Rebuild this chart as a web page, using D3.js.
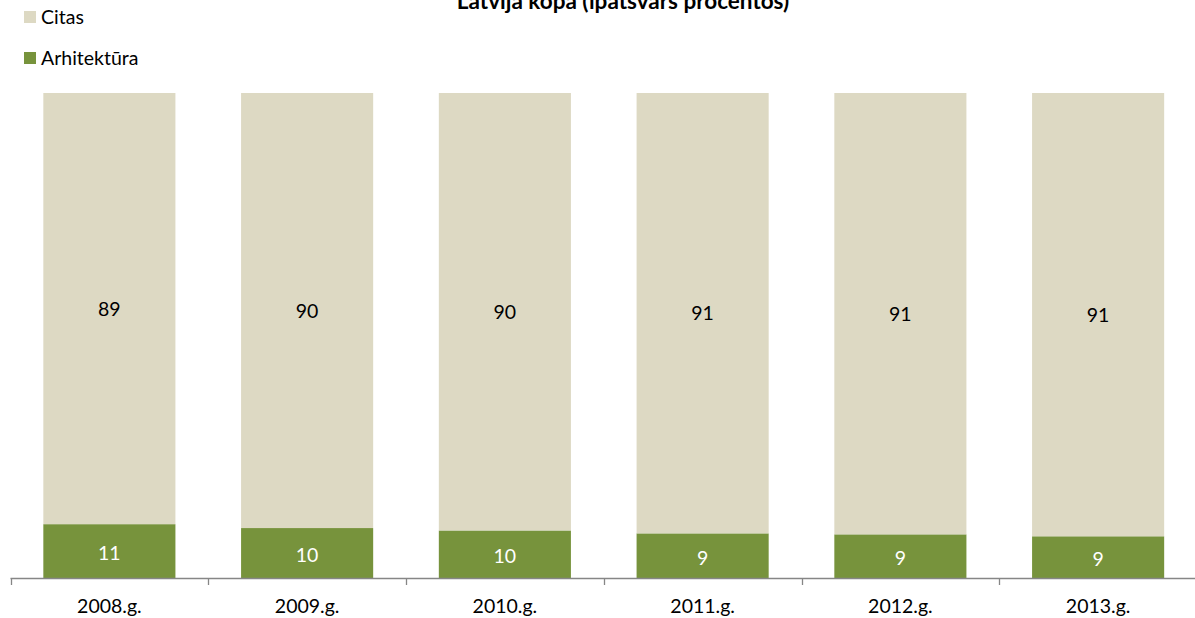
<!DOCTYPE html>
<html>
<head>
<meta charset="utf-8">
<script src="https://cdn.jsdelivr.net/npm/d3@7"></script>
<style>
  html, body { margin: 0; padding: 0; background: #fff; }
  svg { display: block; font-family: Lato, "Open Sans", sans-serif; }
</style>
</head>
<body>
<div id="chart"></div>
<script>
const WIDTH = 1195;
const HEIGHT = 618;

// --------------- Data ---------------
const years = ["2008.g.", "2009.g.", "2010.g.", "2011.g.", "2012.g.", "2013.g."];
const arhitektura = [11.1, 10.3, 9.8, 9.2, 9.0, 8.6];
const citas = [88.9, 89.7, 90.2, 90.8, 91.0, 91.4];
const seriesNames = ["Arhitektūra", "Citas"];
const seriesColors = ["#77933C", "#DDD9C3"];
const labelColors = ["#FFFFFF", "#000000"];
const title = "Latvija kopā (īpatsvars procentos)";

const rows = years.map((y, i) => ({ year: y, "Arhitektūra": arhitektura[i], "Citas": citas[i] }));
const stack = d3.stack().keys(seriesNames)(rows);

// --------------- Scales ---------------
const x = d3.scaleBand()
  .domain(years)
  .range([10.5, 1197])
  .paddingInner(0.332)
  .paddingOuter(0.166);

const y = d3.scaleLinear()
  .domain([0, 100])
  .range([578, 93]);

const svg = d3.select("#chart")
  .append("svg")
  .attr("width", WIDTH)
  .attr("height", HEIGHT);

// title (top is clipped in the original too)
svg.append("text")
  .attr("x", 623)
  .attr("y", 9)
  .attr("text-anchor", "middle")
  .style("font-weight", "bold")
  .style("font-size", "22.5px")
  .text(title);

// bars
const layers = svg.append("g")
  .selectAll("g")
  .data(stack)
  .enter()
  .append("g")
  .attr("fill", (d, i) => seriesColors[i]);

layers.selectAll("rect")
  .data(d => d)
  .enter()
  .append("rect")
  .attr("x", d => x(d.data.year))
  .attr("width", x.bandwidth())
  .attr("y", d => y(d[1]))
  .attr("height", d => y(d[0]) - y(d[1]));

// value labels
layers.each(function(layer, li) {
  d3.select(this).selectAll("text")
    .data(layer)
    .enter()
    .append("text")
    .attr("x", d => x(d.data.year) + x.bandwidth() / 2)
    .attr("y", d => (y(d[0]) + y(d[1])) / 2 + 7 + (li === 0 ? 2 : 0))
    .attr("text-anchor", "middle")
    .attr("fill", labelColors[li])
    .style("font-size", "19.5px")
    .text(d => d3.format(".0f")(d[1] - d[0]));
});

// x axis
const axis = svg.append("g")
  .attr("transform", "translate(0,578)")
  .call(d3.axisBottom(x).tickSize(0).tickPadding(0));

axis.select(".domain")
  .attr("stroke", "#868686")
  .attr("stroke-width", 1.3)
  .attr("d", "M10.5,0.5H1197");

axis.selectAll(".tick text")
  .attr("y", 35)
  .attr("dy", 0)
  .attr("fill", "#000")
  .style("font-size", "19.5px")
  .style("font-family", "Lato, sans-serif");

// boundary ticks between categories
const bounds = years.map(d => x(d) - x.step() * x.paddingInner() / 2).concat([x.range()[1]]);
axis.append("g")
  .selectAll("line")
  .data(bounds)
  .enter()
  .append("line")
  .attr("x1", d => Math.round(d) + 0.5)
  .attr("x2", d => Math.round(d) + 0.5)
  .attr("y1", 0)
  .attr("y2", 7)
  .attr("stroke", "#868686")
  .attr("stroke-width", 1.3);

// legend (Citas on top)
const legendItems = [
  { name: seriesNames[1], color: seriesColors[1], y: 11 },
  { name: seriesNames[0], color: seriesColors[0], y: 52 }
];
const legend = svg.append("g")
  .selectAll("g")
  .data(legendItems)
  .enter()
  .append("g");

legend.append("rect")
  .attr("x", 24)
  .attr("y", d => d.y)
  .attr("width", 12)
  .attr("height", 12)
  .attr("fill", d => d.color);

legend.append("text")
  .attr("x", 41)
  .attr("y", d => d.y + 13)
  .style("font-size", "19.5px")
  .text(d => d.name);
</script>
</body>
</html>
